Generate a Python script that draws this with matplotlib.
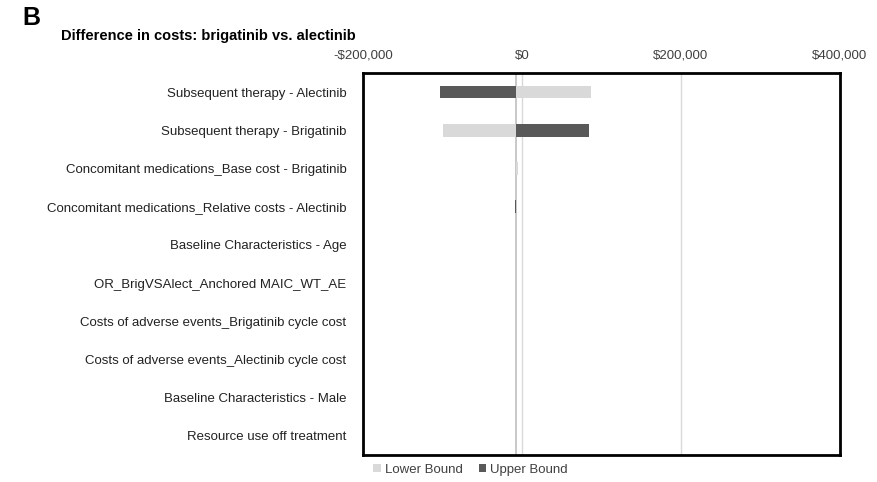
import matplotlib.pyplot as plt
import matplotlib.ticker as mticker
import numpy as np

plt.rcParams['font.family'] = ['Liberation Sans', 'DejaVu Sans']

params = [
    "Subsequent therapy - Alectinib",
    "Subsequent therapy - Brigatinib",
    "Concomitant medications_Base cost - Brigatinib",
    "Concomitant medications_Relative costs - Alectinib",
    "Baseline Characteristics - Age",
    "OR_BrigVSAlect_Anchored MAIC_WT_AE",
    "Costs of adverse events_Brigatinib cycle cost",
    "Costs of adverse events_Alectinib cycle cost",
    "Baseline Characteristics - Male",
    "Resource use off treatment",
]
base = -7500
lower = [87000, -99500, -5500, -7500, -7500, -7500, -7500, -7500, -7500, -7500]
upper = [-103000, 84000, -7500, -9000, -7500, -7500, -7500, -7500, -7500, -7500]

fig = plt.figure(figsize=(8.78, 4.82), dpi=100)
ax = fig.add_axes([363 / 878, 1 - 455 / 482, 477 / 878, 382 / 482])

y = np.arange(len(params))
h = 0.33
ax.barh(y, np.array(lower) - base, left=base, height=h, color='#d9d9d9', label='Lower Bound', zorder=3)
ax.barh(y, np.array(upper) - base, left=base, height=h, color='#595959', label='Upper Bound', zorder=3)
ax.axvline(base, color='#bfbfbf', lw=1.2, zorder=2)

ax.set_xlim(-200000, 400000)
ax.set_ylim(len(params) - 0.5, -0.5)
ax.set_xticks([-200000, 0, 200000, 400000])
ax.xaxis.set_major_formatter(mticker.FuncFormatter(
    lambda v, p: ('-$' if v < 0 else '$') + f'{abs(v):,.0f}'))
ax.xaxis.tick_top()
ax.tick_params(axis='x', length=0, pad=8, labelsize=9.5, colors='#404040')
ax.set_yticks(y)
ax.set_yticklabels(params)
ax.tick_params(axis='y', length=0, pad=12, labelsize=9.5, labelcolor='#222222')
ax.grid(axis='x', color='#d9d9d9', lw=1, zorder=0)
for s in ax.spines.values():
    s.set_linewidth(2)
    s.set_color('black')

fig.text(22 / 878, 1 - 18 / 482, 'B', fontsize=18, fontweight='bold', va='center')
fig.text(61 / 878, 1 - 36 / 482, 'Difference in costs: brigatinib vs. alectinib',
         fontsize=10.5, fontweight='bold', va='center')

ax.legend(loc='upper left', bbox_to_anchor=(-0.004, 0.008), ncol=2, frameon=False,
          fontsize=9.5, handlelength=0.6, handleheight=0.6, handletextpad=0.3,
          columnspacing=1.2, labelcolor='#404040')

fig.savefig('out.png', dpi=100)
